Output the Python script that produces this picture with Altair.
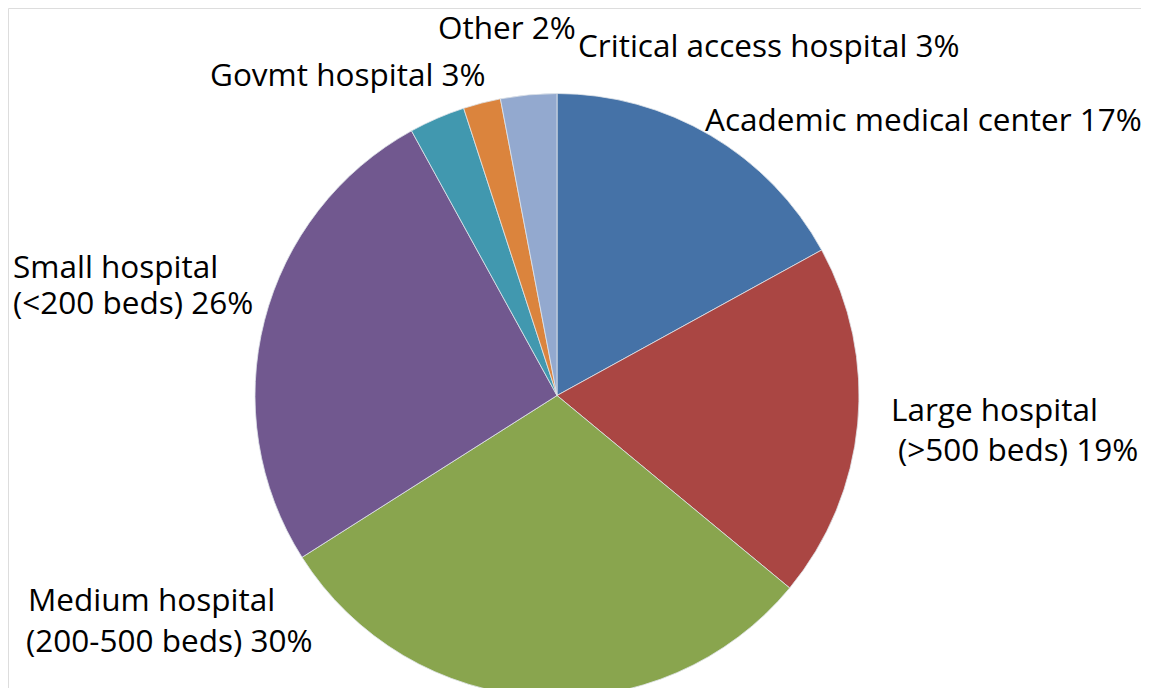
import altair as alt
import pandas as pd

# Data
categories = [
    "Academic medical center",
    "Large hospital (>500 beds)",
    "Medium hospital (200-500 beds)",
    "Small hospital (<200 beds)",
    "Govmt hospital",
    "Other",
    "Critical access hospital",
]
shares = [17, 19, 30, 26, 3, 2, 3]
colors = ["#4572A7", "#AA4643", "#89A54E", "#71588F", "#4198AF", "#DB843D", "#93A9CF"]

label_lines = [
    "Other 2%",
    "Critical access hospital 3%",
    "Govmt hospital 3%",
    "Academic medical center 17%",
    "Small hospital",
    "(<200 beds) 26%",
    "Large hospital",
    "(>500 beds) 19%",
    "Medium hospital",
    "(200-500 beds) 30%",
]
# label anchor positions (layout, chart pixels, left/baseline)
label_x = [430, 570, 202, 697, 5, 5, 883, 890, 20, 18]
label_y = [31, 49, 78, 123, 270, 306, 413, 453, 603, 644]

W, H = 1133, 680
CX, CY, R = 549, 387.5, 302

pie_df = pd.DataFrame({"category": categories, "share": shares, "idx": list(range(len(categories)))})
lab_df = pd.DataFrame({"text": label_lines, "lx": label_x, "ly": label_y})

pie = alt.Chart(pie_df).mark_arc(stroke="#dfe4ea", strokeWidth=0.8).encode(
    theta=alt.Theta("share:Q", stack=True),
    color=alt.Color("category:N", scale=alt.Scale(domain=categories, range=colors), legend=None),
    order=alt.Order("idx:Q"),
    x=alt.value(CX),
    y=alt.value(CY),
    radius=alt.value(R),
)

labels = alt.Chart(lab_df).mark_text(
    align="left", baseline="alphabetic", font="Open Sans", fontSize=31.5, color="#000000"
).encode(
    x=alt.X("lx:Q", scale=alt.Scale(domain=[0, W], range=[0, W]), axis=None),
    y=alt.Y("ly:Q", scale=alt.Scale(domain=[0, H], range=[0, H]), axis=None),
    text="text:N",
)

chart = alt.layer(pie, labels).properties(
    width=W, height=H, padding=0, autosize=alt.AutoSizeParams(type="none")
).configure_view(strokeWidth=0).configure(background="white")

chart.save("out.html", embed_options={"renderer": "svg", "actions": False})
